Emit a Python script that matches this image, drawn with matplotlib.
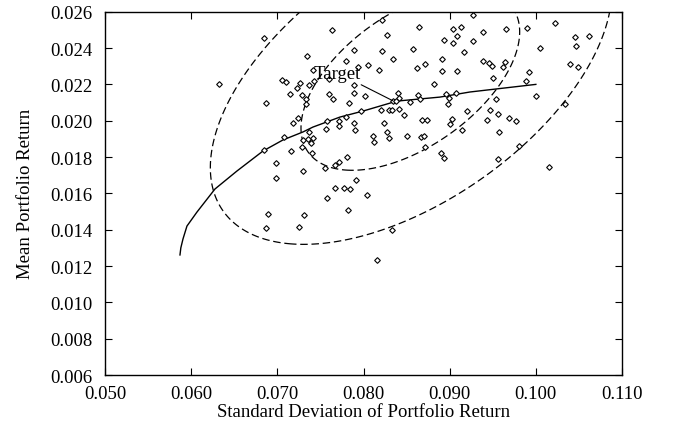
import numpy as np
import matplotlib.pyplot as plt

plt.rcParams['font.family'] = ['Liberation Serif', 'DejaVu Serif']

# sampled portfolios: standard deviation / mean return
std_dev = [0.06845, 0.07343, 0.06323, 0.07053, 0.07100, 0.07262, 0.07227, 0.07146,
           0.07367, 0.07425, 0.07413, 0.07285, 0.07332, 0.07332, 0.06868, 0.07239,
           0.07181, 0.07367, 0.07599, 0.07645, 0.07575, 0.07564, 0.07715, 0.07715,
           0.07796, 0.07077, 0.07297, 0.07355, 0.07413, 0.07390, 0.07285, 0.07401,
           0.06845, 0.07158, 0.06984, 0.07297, 0.06984, 0.06891, 0.07309, 0.06868,
           0.07250, 0.07633, 0.08213, 0.08643, 0.09037, 0.09130, 0.09083, 0.08271,
           0.08932, 0.09037, 0.09165, 0.07889, 0.08213, 0.08573, 0.07796, 0.08341,
           0.08909, 0.08051, 0.07935, 0.08179, 0.08619, 0.08712, 0.08909, 0.09083,
           0.07599, 0.07889, 0.07889, 0.08016, 0.07831, 0.08817, 0.08399, 0.08411,
           0.08341, 0.08376, 0.08631, 0.08654, 0.08538, 0.08956, 0.08991, 0.08979,
           0.09072, 0.09200, 0.07970, 0.08202, 0.08295, 0.08329, 0.08411, 0.08469,
           0.07889, 0.07900, 0.08237, 0.08271, 0.08677, 0.08735, 0.09025, 0.09002,
           0.09141, 0.08109, 0.08121, 0.08295, 0.08503, 0.08666, 0.08701, 0.08712,
           0.07807, 0.08898, 0.08932, 0.07715, 0.07668, 0.07552, 0.07912, 0.07668,
           0.07773, 0.07842, 0.07575, 0.08040, 0.07819, 0.08329, 0.08155, 0.09269,
           0.09385, 0.09652, 0.09896, 0.10220, 0.09269, 0.10452, 0.10615, 0.10464,
           0.10046, 0.09385, 0.09455, 0.09490, 0.09640, 0.09617, 0.09919, 0.09501,
           0.09884, 0.10394, 0.10487, 0.10000, 0.09536, 0.09466, 0.09559, 0.09432,
           0.09687, 0.09768, 0.09571, 0.10336, 0.09559, 0.09803, 0.10151]
mean_ret = [0.02455, 0.02356, 0.02202, 0.02224, 0.02213, 0.02207, 0.02180, 0.02147,
            0.02196, 0.02218, 0.02279, 0.02141, 0.02119, 0.02092, 0.02097, 0.02015,
            0.01987, 0.01938, 0.02147, 0.02119, 0.01998, 0.01954, 0.01998, 0.01971,
            0.02020, 0.01910, 0.01894, 0.01899, 0.01905, 0.01877, 0.01855, 0.01822,
            0.01839, 0.01833, 0.01767, 0.01723, 0.01684, 0.01486, 0.01481, 0.01409,
            0.01415, 0.02499, 0.02554, 0.02516, 0.02505, 0.02516, 0.02466, 0.02472,
            0.02444, 0.02428, 0.02378, 0.02389, 0.02384, 0.02395, 0.02329, 0.02340,
            0.02340, 0.02307, 0.02296, 0.02279, 0.02290, 0.02312, 0.02274, 0.02274,
            0.02230, 0.02196, 0.02152, 0.02136, 0.02097, 0.02202, 0.02152, 0.02125,
            0.02108, 0.02108, 0.02141, 0.02119, 0.02103, 0.02147, 0.02125, 0.02092,
            0.02152, 0.02053, 0.02053, 0.02059, 0.02059, 0.02059, 0.02064, 0.02031,
            0.01987, 0.01949, 0.01987, 0.01938, 0.02004, 0.02004, 0.02009, 0.01982,
            0.01949, 0.01916, 0.01883, 0.01905, 0.01916, 0.01910, 0.01916, 0.01855,
            0.01800, 0.01822, 0.01795, 0.01773, 0.01756, 0.01740, 0.01673, 0.01629,
            0.01629, 0.01624, 0.01574, 0.01591, 0.01508, 0.01398, 0.01233, 0.02582,
            0.02488, 0.02505, 0.02510, 0.02538, 0.02439, 0.02461, 0.02466, 0.02411,
            0.02400, 0.02329, 0.02318, 0.02301, 0.02323, 0.02296, 0.02268, 0.02235,
            0.02218, 0.02312, 0.02296, 0.02136, 0.02119, 0.02059, 0.02037, 0.02004,
            0.02015, 0.01998, 0.01938, 0.02092, 0.01789, 0.01861, 0.01745]

# efficient frontier
frontier_std = [0.05870, 0.05880, 0.05905, 0.05951, 0.06067, 0.06276, 0.06531, 0.06833,
                0.07065, 0.07297, 0.07413, 0.07726, 0.07993, 0.08387, 0.08886, 0.09234,
                0.10000]
frontier_mean = [0.01261, 0.01300, 0.01349, 0.01420, 0.01497, 0.01624, 0.01723, 0.01833,
                 0.01894, 0.01938, 0.01965, 0.02020, 0.02053, 0.02108, 0.02130, 0.02158,
                 0.02200]

# points read along the two dashed confidence ellipses
inner_std = [0.07285, 0.07471, 0.07645, 0.07958, 0.08271, 0.08573, 0.08770, 0.09234,
             0.09385, 0.09617, 0.09698, 0.09780, 0.09814, 0.09756, 0.07575, 0.07726,
             0.07877, 0.08074, 0.08271]
inner_mean = [0.01938, 0.01789, 0.01734, 0.01723, 0.01762, 0.01806, 0.01855, 0.02037,
              0.02075, 0.02218, 0.02296, 0.02384, 0.02477, 0.02604, 0.02301, 0.02384,
              0.02439, 0.02516, 0.02576]
outer_std = [0.07274, 0.07065, 0.06763, 0.06531, 0.06299, 0.06253, 0.06334, 0.06531,
             0.06833, 0.07111, 0.07494, 0.07877, 0.08341, 0.08770, 0.09234, 0.09501,
             0.09814, 0.10046, 0.10336, 0.10592, 0.10777, 0.10835]
outer_mean = [0.02598, 0.02516, 0.02351, 0.02185, 0.01938, 0.01635, 0.01530, 0.01420,
              0.01349, 0.01321, 0.01321, 0.01365, 0.01415, 0.01503, 0.01635, 0.01734,
              0.01861, 0.01954, 0.02092, 0.02274, 0.02461, 0.02593]

target_std = 0.0834
target_mean = 0.0211


def conic(xs, ys, gx, gy):
    # least squares conic through the read ellipse points
    u = (np.asarray(xs) - 0.085) * 100
    v = (np.asarray(ys) - 0.02) * 1000
    A = np.column_stack([u * u, u * v, v * v, u, v])
    c = np.linalg.lstsq(A, np.ones(len(u)), rcond=None)[0]
    U = (gx - 0.085) * 100
    V = (gy - 0.02) * 1000
    return c[0] * U * U + c[1] * U * V + c[2] * V * V + c[3] * U + c[4] * V


fig = plt.figure(figsize=(6.77, 4.27), dpi=100)
ax = fig.add_axes([0.1551, 0.1194, 0.7637, 0.8508])

gx, gy = np.meshgrid(np.linspace(0.04, 0.13, 700), np.linspace(0.0, 0.035, 700))
for xs, ys in [(inner_std, inner_mean), (outer_std, outer_mean)]:
    cs = ax.contour(gx, gy, conic(xs, ys, gx, gy), levels=[1.0],
                    colors='black', linewidths=0.9)
    cs.set_linestyle((0, (6, 3)))

ax.plot(frontier_std, frontier_mean, color='black', lw=1.0)
ax.plot(std_dev, mean_ret, 'D', ms=2.9, mfc='white', mec='black', mew=0.8, ls='none')

ax.annotate('Target', xy=(target_std, target_mean), xytext=(0.0769, 0.0226),
            ha='center', va='center', fontsize=13.5,
            arrowprops=dict(arrowstyle='-', color='black', lw=0.8,
                            relpos=(0.9, 0.0), shrinkA=0, shrinkB=0))

ax.set_xlim(0.05, 0.11)
ax.set_ylim(0.006, 0.026)
ax.set_xticks(np.arange(0.05, 0.1101, 0.01))
ax.set_yticks(np.arange(0.006, 0.0261, 0.002))
ax.xaxis.set_major_formatter(plt.FormatStrFormatter('%.3f'))
ax.yaxis.set_major_formatter(plt.FormatStrFormatter('%.3f'))
ax.tick_params(direction='in', top=True, right=True, length=5, width=0.8,
               labelsize=13.5)
ax.tick_params(axis='x', pad=7)
ax.tick_params(axis='y', pad=9)
for s in ax.spines.values():
    s.set_linewidth(1.0)

ax.set_xlabel('Standard Deviation of Portfolio Return', fontsize=13.5, labelpad=1)
ax.set_ylabel('Mean Portfolio Return', fontsize=13.5, labelpad=12)

fig.savefig('out.png', dpi=100)
